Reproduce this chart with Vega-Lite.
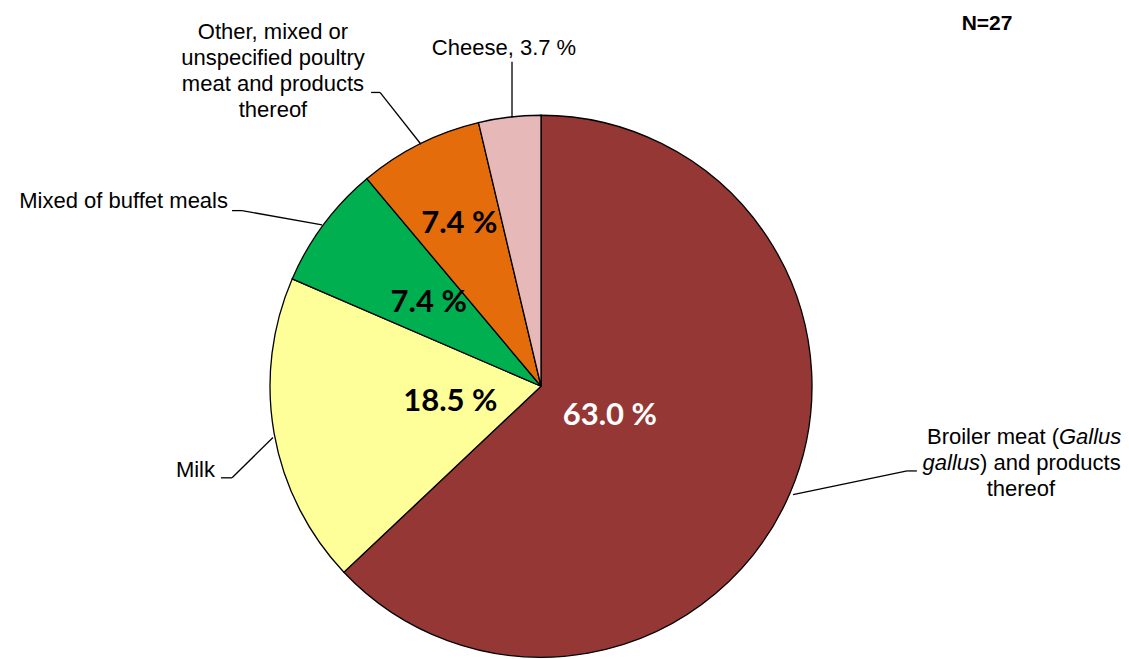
{
  "$schema": "https://vega.github.io/schema/vega-lite/v6.json",
  "width": 1129,
  "height": 659,
  "autosize": {"type": "fit", "contains": "padding"},
  "padding": 0,
  "background": "white",
  "config": {"view": {"stroke": null}, "font": "Liberation Sans"},
  "data": {
    "values": [
      {"category": "Broiler meat (Gallus gallus) and products thereof", "count": 17, "ord": 1, "pct": "63.0 %", "label": "Broiler meat (Gallus gallus) and products thereof"},
      {"category": "Milk", "count": 5, "ord": 2, "pct": "18.5 %", "label": "Milk"},
      {"category": "Mixed of buffet meals", "count": 2, "ord": 3, "pct": "7.4 %", "label": "Mixed of buffet meals"},
      {"category": "Other, mixed or unspecified poultry meat and products thereof", "count": 2, "ord": 4, "pct": "7.4 %", "label": ["Other, mixed or", "unspecified poultry", "meat and products", "thereof"]},
      {"category": "Cheese", "count": 1, "ord": 5, "pct": "3.7 %", "label": "Cheese, 3.7 %"}
    ]
  },
  "layer": [
    {
      "mark": {"type": "arc", "outerRadius": 271, "stroke": "#000000", "strokeWidth": 1.3},
      "encoding": {
        "theta": {"field": "count", "type": "quantitative", "stack": true},
        "order": {"field": "ord", "type": "quantitative"},
        "color": {"field": "category", "type": "nominal", "legend": null,
          "scale": {"domain": ["Broiler meat (Gallus gallus) and products thereof", "Milk", "Mixed of buffet meals", "Other, mixed or unspecified poultry meat and products thereof", "Cheese"],
                    "range": ["#953735", "#FFFF99", "#00B050", "#E46C0A", "#E6B9B8"]}},
        "x": {"datum": 0, "type": "quantitative", "axis": null, "scale": {"domain": [-1.9963, 2.1697], "nice": false, "zero": false}},
        "y": {"datum": 0, "type": "quantitative", "axis": null, "scale": {"domain": [-1.0, 1.4317], "nice": false, "zero": false}}
      }
    },
    {
      "mark": {"type": "text", "radius": 75, "font": "Lato", "fontWeight": "bold", "fontSize": 31, "align": "center", "baseline": "middle", "color": "#FFFFFF"},
      "encoding": {
        "theta": {"field": "count", "type": "quantitative", "stack": true},
        "order": {"field": "ord", "type": "quantitative"},
        "detail": {"field": "category", "type": "nominal"},
        "text": {"condition": {"test": "datum.ord == 1", "field": "pct"}, "value": ""},
        "x": {"datum": 0, "type": "quantitative", "axis": null, "scale": {"domain": [-1.9963, 2.1697], "nice": false, "zero": false}},
        "y": {"datum": 0, "type": "quantitative", "axis": null, "scale": {"domain": [-1.0, 1.4317], "nice": false, "zero": false}}
      }
    },
    {
      "mark": {"type": "text", "radius": 92, "font": "Lato", "fontWeight": "bold", "fontSize": 31, "align": "center", "baseline": "middle", "color": "#000000"},
      "encoding": {
        "theta": {"field": "count", "type": "quantitative", "stack": true},
        "order": {"field": "ord", "type": "quantitative"},
        "detail": {"field": "category", "type": "nominal"},
        "text": {"condition": {"test": "datum.ord == 2", "field": "pct"}, "value": ""},
        "x": {"datum": 0, "type": "quantitative", "axis": null, "scale": {"domain": [-1.9963, 2.1697], "nice": false, "zero": false}},
        "y": {"datum": 0, "type": "quantitative", "axis": null, "scale": {"domain": [-1.0, 1.4317], "nice": false, "zero": false}}
      }
    },
    {
      "mark": {"type": "text", "radius": 140, "font": "Lato", "fontWeight": "bold", "fontSize": 31, "align": "center", "baseline": "middle", "color": "#000000"},
      "encoding": {
        "theta": {"field": "count", "type": "quantitative", "stack": true},
        "order": {"field": "ord", "type": "quantitative"},
        "detail": {"field": "category", "type": "nominal"},
        "text": {"condition": {"test": "datum.ord == 3", "field": "pct"}, "value": ""},
        "x": {"datum": 0, "type": "quantitative", "axis": null, "scale": {"domain": [-1.9963, 2.1697], "nice": false, "zero": false}},
        "y": {"datum": 0, "type": "quantitative", "axis": null, "scale": {"domain": [-1.0, 1.4317], "nice": false, "zero": false}}
      }
    },
    {
      "mark": {"type": "text", "radius": 182, "font": "Lato", "fontWeight": "bold", "fontSize": 31, "align": "center", "baseline": "middle", "color": "#000000"},
      "encoding": {
        "theta": {"field": "count", "type": "quantitative", "stack": true},
        "order": {"field": "ord", "type": "quantitative"},
        "detail": {"field": "category", "type": "nominal"},
        "text": {"condition": {"test": "datum.ord == 4", "field": "pct"}, "value": ""},
        "x": {"datum": 0, "type": "quantitative", "axis": null, "scale": {"domain": [-1.9963, 2.1697], "nice": false, "zero": false}},
        "y": {"datum": 0, "type": "quantitative", "axis": null, "scale": {"domain": [-1.0, 1.4317], "nice": false, "zero": false}}
      }
    },
    {
      "transform": [{"filter": "datum.ord == 5"}],
      "mark": {"type": "rule", "stroke": "#000000", "strokeWidth": 1.3},
      "encoding": {
        "x": {"datum": -0.107, "type": "quantitative", "axis": null, "scale": {"domain": [-1.9963, 2.1697], "nice": false, "zero": false}},
        "y": {"datum": 0.996, "type": "quantitative", "axis": null, "scale": {"domain": [-1.0, 1.4317], "nice": false, "zero": false}},
        "x2": {"datum": -0.107},
        "y2": {"datum": 1.203}
      }
    },
    {
      "transform": [{"filter": "datum.ord == 4"}],
      "mark": {"type": "rule", "stroke": "#000000", "strokeWidth": 1.3},
      "encoding": {
        "x": {"datum": -0.443, "type": "quantitative", "axis": null, "scale": {"domain": [-1.9963, 2.1697], "nice": false, "zero": false}},
        "y": {"datum": 0.897, "type": "quantitative", "axis": null, "scale": {"domain": [-1.0, 1.4317], "nice": false, "zero": false}},
        "x2": {"datum": -0.594},
        "y2": {"datum": 1.089}
      }
    },
    {
      "transform": [{"filter": "datum.ord == 4"}],
      "mark": {"type": "rule", "stroke": "#000000", "strokeWidth": 1.3},
      "encoding": {
        "x": {"datum": -0.594, "type": "quantitative", "axis": null, "scale": {"domain": [-1.9963, 2.1697], "nice": false, "zero": false}},
        "y": {"datum": 1.089, "type": "quantitative", "axis": null, "scale": {"domain": [-1.0, 1.4317], "nice": false, "zero": false}},
        "x2": {"datum": -0.627},
        "y2": {"datum": 1.089}
      }
    },
    {
      "transform": [{"filter": "datum.ord == 3"}],
      "mark": {"type": "rule", "stroke": "#000000", "strokeWidth": 1.3},
      "encoding": {
        "x": {"datum": -0.808, "type": "quantitative", "axis": null, "scale": {"domain": [-1.9963, 2.1697], "nice": false, "zero": false}},
        "y": {"datum": 0.598, "type": "quantitative", "axis": null, "scale": {"domain": [-1.0, 1.4317], "nice": false, "zero": false}},
        "x2": {"datum": -1.103},
        "y2": {"datum": 0.651}
      }
    },
    {
      "transform": [{"filter": "datum.ord == 3"}],
      "mark": {"type": "rule", "stroke": "#000000", "strokeWidth": 1.3},
      "encoding": {
        "x": {"datum": -1.103, "type": "quantitative", "axis": null, "scale": {"domain": [-1.9963, 2.1697], "nice": false, "zero": false}},
        "y": {"datum": 0.651, "type": "quantitative", "axis": null, "scale": {"domain": [-1.0, 1.4317], "nice": false, "zero": false}},
        "x2": {"datum": -1.140},
        "y2": {"datum": 0.651}
      }
    },
    {
      "transform": [{"filter": "datum.ord == 2"}],
      "mark": {"type": "rule", "stroke": "#000000", "strokeWidth": 1.3},
      "encoding": {
        "x": {"datum": -0.989, "type": "quantitative", "axis": null, "scale": {"domain": [-1.9963, 2.1697], "nice": false, "zero": false}},
        "y": {"datum": -0.190, "type": "quantitative", "axis": null, "scale": {"domain": [-1.0, 1.4317], "nice": false, "zero": false}},
        "x2": {"datum": -1.140},
        "y2": {"datum": -0.3395}
      }
    },
    {
      "transform": [{"filter": "datum.ord == 2"}],
      "mark": {"type": "rule", "stroke": "#000000", "strokeWidth": 1.3},
      "encoding": {
        "x": {"datum": -1.140, "type": "quantitative", "axis": null, "scale": {"domain": [-1.9963, 2.1697], "nice": false, "zero": false}},
        "y": {"datum": -0.3395, "type": "quantitative", "axis": null, "scale": {"domain": [-1.0, 1.4317], "nice": false, "zero": false}},
        "x2": {"datum": -1.181},
        "y2": {"datum": -0.3395}
      }
    },
    {
      "transform": [{"filter": "datum.ord == 1"}],
      "mark": {"type": "rule", "stroke": "#000000", "strokeWidth": 1.3},
      "encoding": {
        "x": {"datum": 0.930, "type": "quantitative", "axis": null, "scale": {"domain": [-1.9963, 2.1697], "nice": false, "zero": false}},
        "y": {"datum": -0.402, "type": "quantitative", "axis": null, "scale": {"domain": [-1.0, 1.4317], "nice": false, "zero": false}},
        "x2": {"datum": 1.351},
        "y2": {"datum": -0.314}
      }
    },
    {
      "transform": [{"filter": "datum.ord == 1"}],
      "mark": {"type": "rule", "stroke": "#000000", "strokeWidth": 1.3},
      "encoding": {
        "x": {"datum": 1.351, "type": "quantitative", "axis": null, "scale": {"domain": [-1.9963, 2.1697], "nice": false, "zero": false}},
        "y": {"datum": -0.314, "type": "quantitative", "axis": null, "scale": {"domain": [-1.0, 1.4317], "nice": false, "zero": false}},
        "x2": {"datum": 1.387},
        "y2": {"datum": -0.314}
      }
    },
    {
      "transform": [{"filter": "datum.ord == 5"}],
      "mark": {"type": "text", "fontSize": 22, "align": "center", "baseline": "alphabetic", "color": "#000000"},
      "encoding": {
        "text": {"field": "label"},
        "x": {"datum": -0.1365, "type": "quantitative", "axis": null, "scale": {"domain": [-1.9963, 2.1697], "nice": false, "zero": false}},
        "y": {"datum": 1.2288, "type": "quantitative", "axis": null, "scale": {"domain": [-1.0, 1.4317], "nice": false, "zero": false}}
      }
    },
    {
      "transform": [{"filter": "datum.ord == 4"}],
      "mark": {"type": "text", "fontSize": 22, "lineHeight": 26, "align": "center", "baseline": "alphabetic", "color": "#000000"},
      "encoding": {
        "text": {"field": "label"},
        "x": {"datum": -0.989, "type": "quantitative", "axis": null, "scale": {"domain": [-1.9963, 2.1697], "nice": false, "zero": false}},
        "y": {"datum": 1.2878, "type": "quantitative", "axis": null, "scale": {"domain": [-1.0, 1.4317], "nice": false, "zero": false}}
      }
    },
    {
      "transform": [{"filter": "datum.ord == 3"}],
      "mark": {"type": "text", "fontSize": 22, "align": "right", "baseline": "alphabetic", "color": "#000000"},
      "encoding": {
        "text": {"field": "label"},
        "x": {"datum": -1.155, "type": "quantitative", "axis": null, "scale": {"domain": [-1.9963, 2.1697], "nice": false, "zero": false}},
        "y": {"datum": 0.6605, "type": "quantitative", "axis": null, "scale": {"domain": [-1.0, 1.4317], "nice": false, "zero": false}}
      }
    },
    {
      "transform": [{"filter": "datum.ord == 2"}],
      "mark": {"type": "text", "fontSize": 22, "align": "right", "baseline": "alphabetic", "color": "#000000"},
      "encoding": {
        "text": {"field": "label"},
        "x": {"datum": -1.203, "type": "quantitative", "axis": null, "scale": {"domain": [-1.9963, 2.1697], "nice": false, "zero": false}},
        "y": {"datum": -0.3358, "type": "quantitative", "axis": null, "scale": {"domain": [-1.0, 1.4317], "nice": false, "zero": false}}
      }
    },
    {
      "transform": [{"filter": "datum.ord == 1"}],
      "mark": {"type": "text", "fontSize": 22, "align": "right", "baseline": "alphabetic", "color": "#000000", "text": "Broiler meat ("},
      "encoding": {
        "x": {"datum": 1.9114, "type": "quantitative", "axis": null, "scale": {"domain": [-1.9963, 2.1697], "nice": false, "zero": false}},
        "y": {"datum": -0.2159, "type": "quantitative", "axis": null, "scale": {"domain": [-1.0, 1.4317], "nice": false, "zero": false}}
      }
    },
    {
      "transform": [{"filter": "datum.ord == 1"}],
      "mark": {"type": "text", "fontSize": 22, "fontStyle": "italic", "align": "left", "baseline": "alphabetic", "color": "#000000", "text": "Gallus"},
      "encoding": {
        "x": {"datum": 1.9114, "type": "quantitative", "axis": null, "scale": {"domain": [-1.9963, 2.1697], "nice": false, "zero": false}},
        "y": {"datum": -0.2159, "type": "quantitative", "axis": null, "scale": {"domain": [-1.0, 1.4317], "nice": false, "zero": false}}
      }
    },
    {
      "transform": [{"filter": "datum.ord == 1"}],
      "mark": {"type": "text", "fontSize": 22, "fontStyle": "italic", "align": "right", "baseline": "alphabetic", "color": "#000000", "text": "gallus"},
      "encoding": {
        "x": {"datum": 1.62, "type": "quantitative", "axis": null, "scale": {"domain": [-1.9963, 2.1697], "nice": false, "zero": false}},
        "y": {"datum": -0.31, "type": "quantitative", "axis": null, "scale": {"domain": [-1.0, 1.4317], "nice": false, "zero": false}}
      }
    },
    {
      "transform": [{"filter": "datum.ord == 1"}],
      "mark": {"type": "text", "fontSize": 22, "align": "left", "baseline": "alphabetic", "color": "#000000", "text": ") and products"},
      "encoding": {
        "x": {"datum": 1.62, "type": "quantitative", "axis": null, "scale": {"domain": [-1.9963, 2.1697], "nice": false, "zero": false}},
        "y": {"datum": -0.31, "type": "quantitative", "axis": null, "scale": {"domain": [-1.0, 1.4317], "nice": false, "zero": false}}
      }
    },
    {
      "transform": [{"filter": "datum.ord == 1"}],
      "mark": {"type": "text", "fontSize": 22, "align": "center", "baseline": "alphabetic", "color": "#000000", "text": "thereof"},
      "encoding": {
        "x": {"datum": 1.771, "type": "quantitative", "axis": null, "scale": {"domain": [-1.9963, 2.1697], "nice": false, "zero": false}},
        "y": {"datum": -0.406, "type": "quantitative", "axis": null, "scale": {"domain": [-1.0, 1.4317], "nice": false, "zero": false}}
      }
    },
    {
      "transform": [{"filter": "datum.ord == 1"}],
      "mark": {"type": "text", "fontSize": 21, "fontWeight": "bold", "align": "center", "baseline": "alphabetic", "color": "#000000", "text": "N=27"},
      "encoding": {
        "x": {"datum": 1.646, "type": "quantitative", "axis": null, "scale": {"domain": [-1.9963, 2.1697], "nice": false, "zero": false}},
        "y": {"datum": 1.321, "type": "quantitative", "axis": null, "scale": {"domain": [-1.0, 1.4317], "nice": false, "zero": false}}
      }
    }
  ]
}
